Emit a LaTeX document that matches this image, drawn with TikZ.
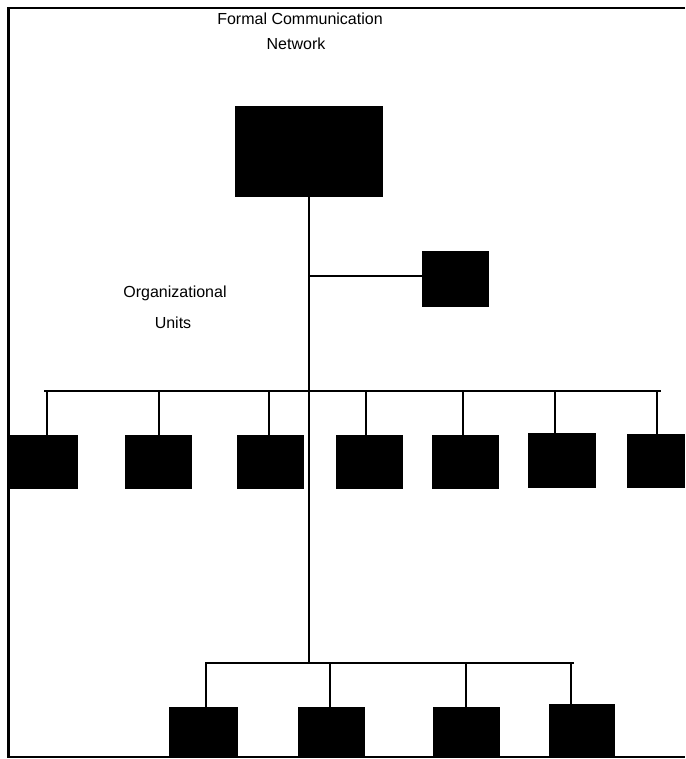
\documentclass[tikz,border=0pt]{standalone}
\usepackage{fontspec}
\setmainfont{Liberation Sans}
\begin{document}
\begin{tikzpicture}[x=1pt,y=-1pt,
  unit/.style={rectangle, fill=black, draw=none, inner sep=0pt, anchor=north west},
  wire/.style={line width=2pt},
  frameline/.style={line width=2.2pt},
  caption/.style={font=\fontsize{16}{19}\selectfont, anchor=base, inner sep=0pt}]
\useasboundingbox (0,0) rectangle (685,759);

% outer frame (left, top, bottom)
\draw[frameline] (685,8) -- (8.5,8) -- (8.5,757) -- (685,757);

% captions
\node[caption] (t1) at (300,25) {Formal Communication};
\node[caption] (t2) at (296,50) {Network};
\node[caption] (o1) at (175,297) {Organizational};
\node[caption] (o2) at (173,328) {Units};

% head unit and staff unit
\node[unit, minimum width=148pt, minimum height=91pt] (head) at (235,106) {};
\node[unit, minimum width=67pt, minimum height=56pt] (staff) at (422,251) {};

% first level units
\node[unit, minimum width=68pt, minimum height=54pt] (a1) at (10,435) {};
\node[unit, minimum width=67pt, minimum height=54pt] (a2) at (125,435) {};
\node[unit, minimum width=67pt, minimum height=54pt] (a3) at (237,435) {};
\node[unit, minimum width=67pt, minimum height=54pt] (a4) at (336,435) {};
\node[unit, minimum width=67pt, minimum height=54pt] (a5) at (432,435) {};
\node[unit, minimum width=68pt, minimum height=55pt] (a6) at (528,433) {};
\node[unit, minimum width=58pt, minimum height=54pt] (a7) at (627,434) {};

% second level units
\node[unit, minimum width=69pt, minimum height=50pt] (b1) at (169,707) {};
\node[unit, minimum width=67pt, minimum height=50pt] (b2) at (298,707) {};
\node[unit, minimum width=67pt, minimum height=50pt] (b3) at (433,707) {};
\node[unit, minimum width=66pt, minimum height=53pt] (b4) at (549,704) {};

% the two buses
\coordinate (busL) at (44,391);
\coordinate (busR) at (661,391);
\coordinate (lowL) at (205,663);
\coordinate (lowR) at (574,663);

% trunk with the staff branch
\coordinate (staffj) at (head.south |- staff.west);
\coordinate (lowj) at (head.south |- lowL);
\draw[wire] (head.south) -- (lowj);
\draw[wire] ([yshift=3pt]staffj) -- ([yshift=3pt]staff.west);
\draw[wire] (busL) -- (busR);
\draw[wire] (lowL) -- (lowR);

% drops to first level
\draw[wire] ([xshift=3pt]a1.north) -- ([xshift=3pt]a1.north |- busL);
\draw[wire] (a2.north) -- (a2.north |- busL);
\draw[wire] ([xshift=-2pt]a3.north) -- ([xshift=-2pt]a3.north |- busL);
\draw[wire] ([xshift=-3.5pt]a4.north) -- ([xshift=-3.5pt]a4.north |- busL);
\draw[wire] ([xshift=-2.5pt]a5.north) -- ([xshift=-2.5pt]a5.north |- busL);
\draw[wire] ([xshift=-7pt]a6.north) -- ([xshift=-7pt]a6.north |- busL);
\draw[wire] ([xshift=1pt]a7.north) -- ([xshift=1pt]a7.north |- busL);

% drops to second level
\draw[wire] ([xshift=2.5pt]b1.north) -- ([xshift=2.5pt]b1.north |- lowL);
\draw[wire] ([xshift=-1.5pt]b2.north) -- ([xshift=-1.5pt]b2.north |- lowL);
\draw[wire] ([xshift=-0.5pt]b3.north) -- ([xshift=-0.5pt]b3.north |- lowL);
\draw[wire] ([xshift=-11pt]b4.north) -- ([xshift=-11pt]b4.north |- lowL);
\end{tikzpicture}
\end{document}
